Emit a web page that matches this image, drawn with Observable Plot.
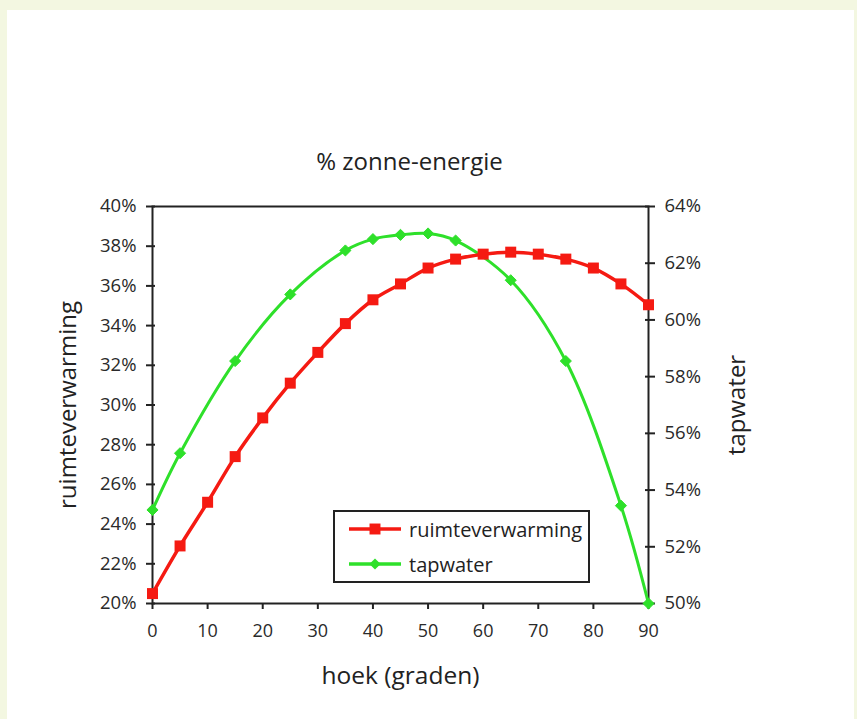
<!DOCTYPE html>
<html>
<head>
<meta charset="utf-8">
<script src="https://cdn.jsdelivr.net/npm/d3@7"></script>
<script src="https://cdn.jsdelivr.net/npm/@observablehq/plot@0.6"></script>
<style>
  html, body { margin: 0; padding: 0; }
  body { width: 857px; height: 719px; background: #f3f7e1; position: relative; overflow: hidden; font-family: "Open Sans", "Noto Sans", sans-serif; }
  #card { position: absolute; left: 7px; top: 10px; width: 847px; height: 720px; background: #fff; }
  #chart { position: absolute; left: 0; top: 0; }
  #legend { position: absolute; left: 333px; top: 510px; width: 253px; height: 69px; border: 2px solid #222; background: #fff; }
  .row { position: absolute; left: 12px; display: flex; align-items: center; font-size: 20px; color: #222; }
  .row svg { margin-right: 6px; }
</style>
</head>
<body>
<div id="card"></div>
<div id="chart"></div>
<div id="legend"></div>
<script>
// ---- data ----
const title = "% zonne-energie";
const xLabel = "hoek (graden)";
const leftLabel = "ruimteverwarming";
const rightLabel = "tapwater";

const ruimteAngles = [0, 5, 10, 15, 20, 25, 30, 35, 40, 45, 50, 55, 60, 65, 70, 75, 80, 85, 90];
const ruimteValues = [20.5, 22.9, 25.1, 27.4, 29.35, 31.1, 32.65, 34.1, 35.3, 36.1, 36.9, 37.35, 37.6, 37.7, 37.6, 37.35, 36.9, 36.1, 35.05];

const tapAngles = [0, 5, 15, 25, 35, 40, 45, 50, 55, 65, 75, 85, 90];
const tapValues = [53.3, 55.3, 58.55, 60.9, 62.45, 62.85, 63.0, 63.05, 62.8, 61.4, 58.55, 53.45, 50.0];

const xTicks = [0, 10, 20, 30, 40, 50, 60, 70, 80, 90];
const leftTicks = [20, 22, 24, 26, 28, 30, 32, 34, 36, 38, 40];
const rightTicks = [50, 52, 54, 56, 58, 60, 62, 64];

const leftDomain = [20, 40];
const rightDomain = [50, 64];
const xDomain = [0, 90];

const seriesNames = ["ruimteverwarming", "tapwater"];
const seriesColors = ["#f51a12", "#2ee02a"];

// map right-axis values onto the left scale
const toLeft = v => leftDomain[0] + (v - rightDomain[0]) * (leftDomain[1] - leftDomain[0]) / (rightDomain[1] - rightDomain[0]);
const toRight = v => rightDomain[0] + (v - leftDomain[0]) * (rightDomain[1] - rightDomain[0]) / (leftDomain[1] - leftDomain[0]);

const ruimte = ruimteAngles.map((a, i) => ({x: a, y: ruimteValues[i]}));
const tap = tapAngles.map((a, i) => ({x: a, y: toLeft(tapValues[i])}));

const ink = "#222";
const font = "'Open Sans', 'Noto Sans', sans-serif";

const chart = Plot.plot({
  width: 857,
  height: 719,
  marginLeft: 152,
  marginRight: 209,
  marginTop: 206,
  marginBottom: 116,
  style: {background: "transparent", fontFamily: font, color: ink, overflow: "visible"},
  x: {domain: xDomain},
  y: {domain: leftDomain},
  marks: [
    Plot.axisX(xTicks, {anchor: "bottom", tickSize: 6, tickPadding: 15, fontSize: 18, strokeWidth: 2, stroke: ink, fill: "#2a2a2a", label: null}),
    Plot.axisY(leftTicks, {anchor: "left", tickSize: 9, dx: 3, tickPadding: 10, fontSize: 18.5, strokeWidth: 2, stroke: ink, fill: "#2a2a2a", tickFormat: d => d + "%", label: null}),
    Plot.axisY(rightTicks.map(toLeft), {anchor: "right", tickSize: 10, dx: -4, tickPadding: 10, fontSize: 18.5, strokeWidth: 2, stroke: ink, fill: "#2a2a2a", tickFormat: d => Math.round(toRight(d)) + "%", label: null}),
    Plot.frame({stroke: ink, strokeWidth: 2}),
    Plot.line(tap, {x: "x", y: "y", stroke: seriesColors[1], strokeWidth: 3, curve: "catmull-rom"}),
    Plot.dot(tap, {x: "x", y: "y", symbol: "diamond2", r: 5, fill: seriesColors[1], stroke: seriesColors[1], strokeWidth: 1}),
    Plot.line(ruimte, {x: "x", y: "y", stroke: seriesColors[0], strokeWidth: 3.5, curve: "catmull-rom"}),
    Plot.dot(ruimte, {x: "x", y: "y", symbol: "square", r: 6.2, fill: seriesColors[0]}),
    Plot.text([title], {frameAnchor: "top", dx: 9, dy: -37, lineAnchor: "bottom", fontSize: 24, fill: ink}),
    Plot.text([xLabel], {frameAnchor: "bottom", dy: 80, fontSize: 24.5, fill: ink}),
    Plot.text([leftLabel], {frameAnchor: "left", textAnchor: "middle", dx: -84, rotate: -90, fontSize: 24, fill: ink}),
    Plot.text([rightLabel], {frameAnchor: "right", textAnchor: "middle", dx: 89, rotate: -90, fontSize: 24, fill: ink})
  ]
});
document.getElementById("chart").appendChild(chart);

// legend
const legend = d3.select("#legend");
const symbols = [d3.symbolSquare, d3.symbolDiamond2];
const symbolSizes = [120, 80];
seriesNames.forEach((name, i) => {
  const row = legend.append("div").attr("class", "row").style("top", (i === 0 ? 2 : 37) + "px");
  const svg = row.append("svg").attr("width", 56).attr("height", 30);
  svg.append("line").attr("x1", 2).attr("x2", 54).attr("y1", 15).attr("y2", 15)
    .attr("stroke", seriesColors[i]).attr("stroke-width", 3.5);
  svg.append("path").attr("transform", "translate(28,15)")
    .attr("d", d3.symbol(symbols[i], symbolSizes[i])()).attr("fill", seriesColors[i]);
  row.append("span").text(name);
});
</script>
</body>
</html>
